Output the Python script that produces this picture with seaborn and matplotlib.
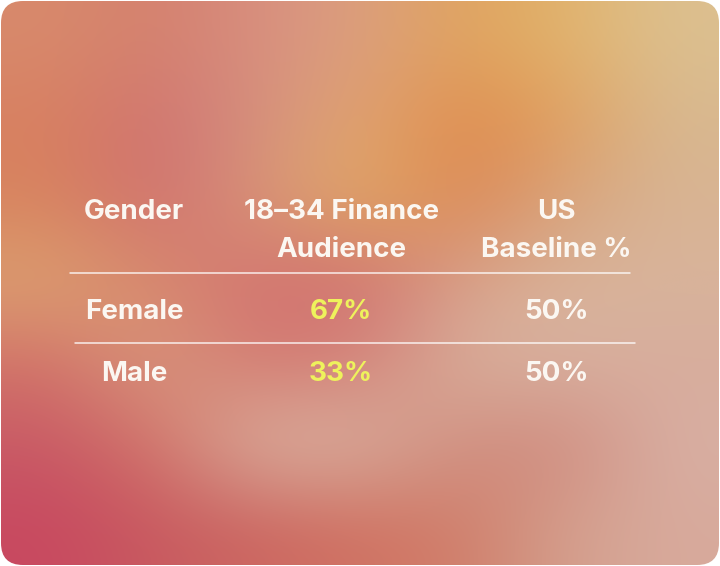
import numpy as np
import matplotlib.pyplot as plt
import seaborn as sns
from matplotlib.patches import FancyBboxPatch
from matplotlib.colors import to_rgb

# table content
headers = [["Gender"], ["18–34 Finance", "Audience"], ["US", "Baseline %"]]
genders = ["Female", "Male"]
finance_audience = ["67%", "33%"]
us_baseline = ["50%", "50%"]

# background colour anchors (rows top->bottom, cols left->right)
bg_colors = [
    ["#d88a6c", "#d4806e", "#d88e80", "#dba080", "#e0a35e", "#e2b46c", "#dcc090"],
    ["#d88060", "#d07272", "#d49080", "#e0a670", "#e08a4c", "#e0a060", "#d8b890"],
    ["#d8845e", "#d07070", "#d8947a", "#e0aa64", "#dc8656", "#d8a47e", "#d8b494"],
    ["#dca272", "#d88a6c", "#d27272", "#d07070", "#d8a28c", "#d8b49a", "#d8b49c"],
    ["#d27268", "#d89a80", "#d47a70", "#d48478", "#d9b09c", "#d8b0a0", "#d8ac9c"],
    ["#c85a66", "#d27468", "#dab4a2", "#d8b0a0", "#d08e80", "#d08a7e", "#d8b0a4"],
    ["#c84860", "#c85a60", "#cc6660", "#d07262", "#d07e6a", "#d4a08e", "#d8aa9c"],
]

sns.set_theme(style="white")
plt.rcParams['font.family'] = ['Inter', 'DejaVu Sans']

W, H = 720, 566
fig = plt.figure(figsize=(W / 100, H / 100), dpi=100)
fig.patch.set_facecolor("white")
ax = fig.add_axes([0, 0, 1, 1])
ax.set_xlim(0, W)
ax.set_ylim(H, 0)
ax.axis("off")

grid = np.array([[to_rgb(c) for c in row] for row in bg_colors])
img = ax.imshow(grid, extent=[0, W, H, 0], interpolation="bicubic", aspect="auto", zorder=0)
card = FancyBboxPatch((1, 1), W - 2, H - 2, boxstyle="round,pad=0,rounding_size=22",
                      transform=ax.transData, facecolor="none", edgecolor="none")
ax.add_patch(card)
img.set_clip_path(card)

col_x = [134, 341, 556]
head_y = [212, 250]
row_y = [312, 374]
fs = 20
white = "#fbf7f2"
yellow = "#eef25c"

for cx, lines in zip(col_x, headers):
    for ly, txt in zip(head_y, lines):
        ax.text(cx, ly, txt, ha="center", va="center", fontsize=fs,
                fontweight="bold", color=white)

for ry, g, fa, us in zip(row_y, genders, finance_audience, us_baseline):
    ax.text(col_x[0], ry, g, ha="center", va="center", fontsize=fs, fontweight="bold", color=white)
    ax.text(col_x[1], ry, fa, ha="center", va="center", fontsize=fs, fontweight="bold", color=yellow)
    ax.text(col_x[2], ry, us, ha="center", va="center", fontsize=fs, fontweight="bold", color=white)

ax.plot([70, 630], [273, 273], color="white", lw=1.1, alpha=0.85)
ax.plot([75, 635], [343, 343], color="white", lw=1.1, alpha=0.85)

fig.savefig("out.png", dpi=100)
